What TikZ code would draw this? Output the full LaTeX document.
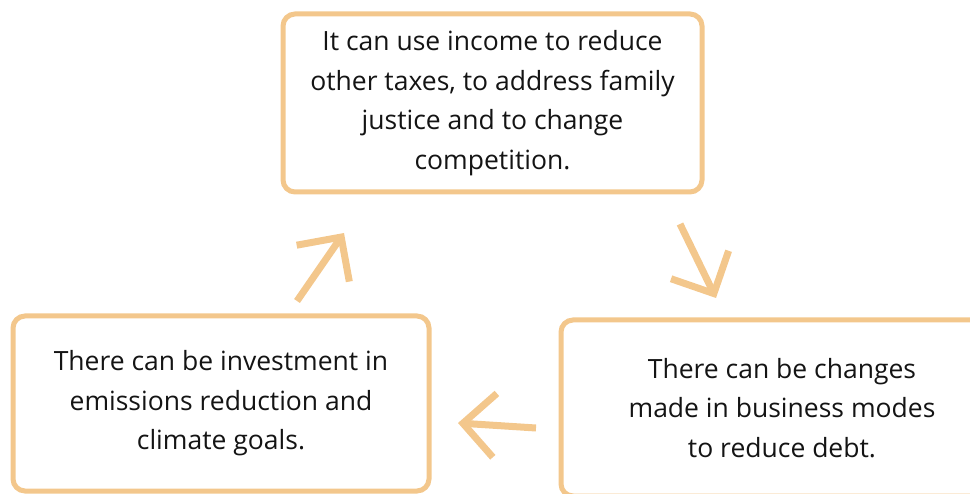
\documentclass[tikz,border=0pt]{standalone}
\usepackage{fontspec}
\setmainfont{Open Sans}
\usetikzlibrary{arrows.meta}

\definecolor{peach}{RGB}{243,199,140}
\definecolor{ink}{RGB}{20,20,20}

\tikzset{
  stepbox/.style={rectangle, draw=peach, line width=5pt, rounded corners=12pt,
    align=center, text=ink, font=\fontsize{26.5}{39.5}\selectfont},
  cycle arrow/.style={draw=peach, line width=7pt,
    -{Straight Barb[sharp, length=32pt, width=64pt]}}
}

\begin{document}
\begin{tikzpicture}[x=1pt, y=-1pt]
  \useasboundingbox (0,0) rectangle (970,494);
  \clip (0,0) rectangle (970,494);

  % the three stages
  \node[stepbox, minimum width=419pt, minimum height=178pt] (income) at (492.5, 103)
    {It can use income to reduce\\other taxes, to address family\\justice and to change\\competition.};
  \node[stepbox, minimum width=442pt, minimum height=176pt] (business) at (782, 408)
    {There can be changes\\made in business modes\\to reduce debt.};
  \node[stepbox, minimum width=416pt, minimum height=175pt] (invest) at (221, 403.5)
    {There can be investment in\\emissions reduction and\\climate goals.};

  % arrow ends
  \coordinate (down-a) at (680, 224);
  \coordinate (down-b) at (716, 298);
  \coordinate (left-a) at (536, 428);
  \coordinate (left-b) at (458, 423);
  \coordinate (up-a) at (297, 301);
  \coordinate (up-b) at (344, 233);

  \draw[cycle arrow] (down-a) -- (down-b);
  \draw[cycle arrow] (left-a) -- (left-b);
  \draw[cycle arrow] (up-a) -- (up-b);
\end{tikzpicture}
\end{document}
